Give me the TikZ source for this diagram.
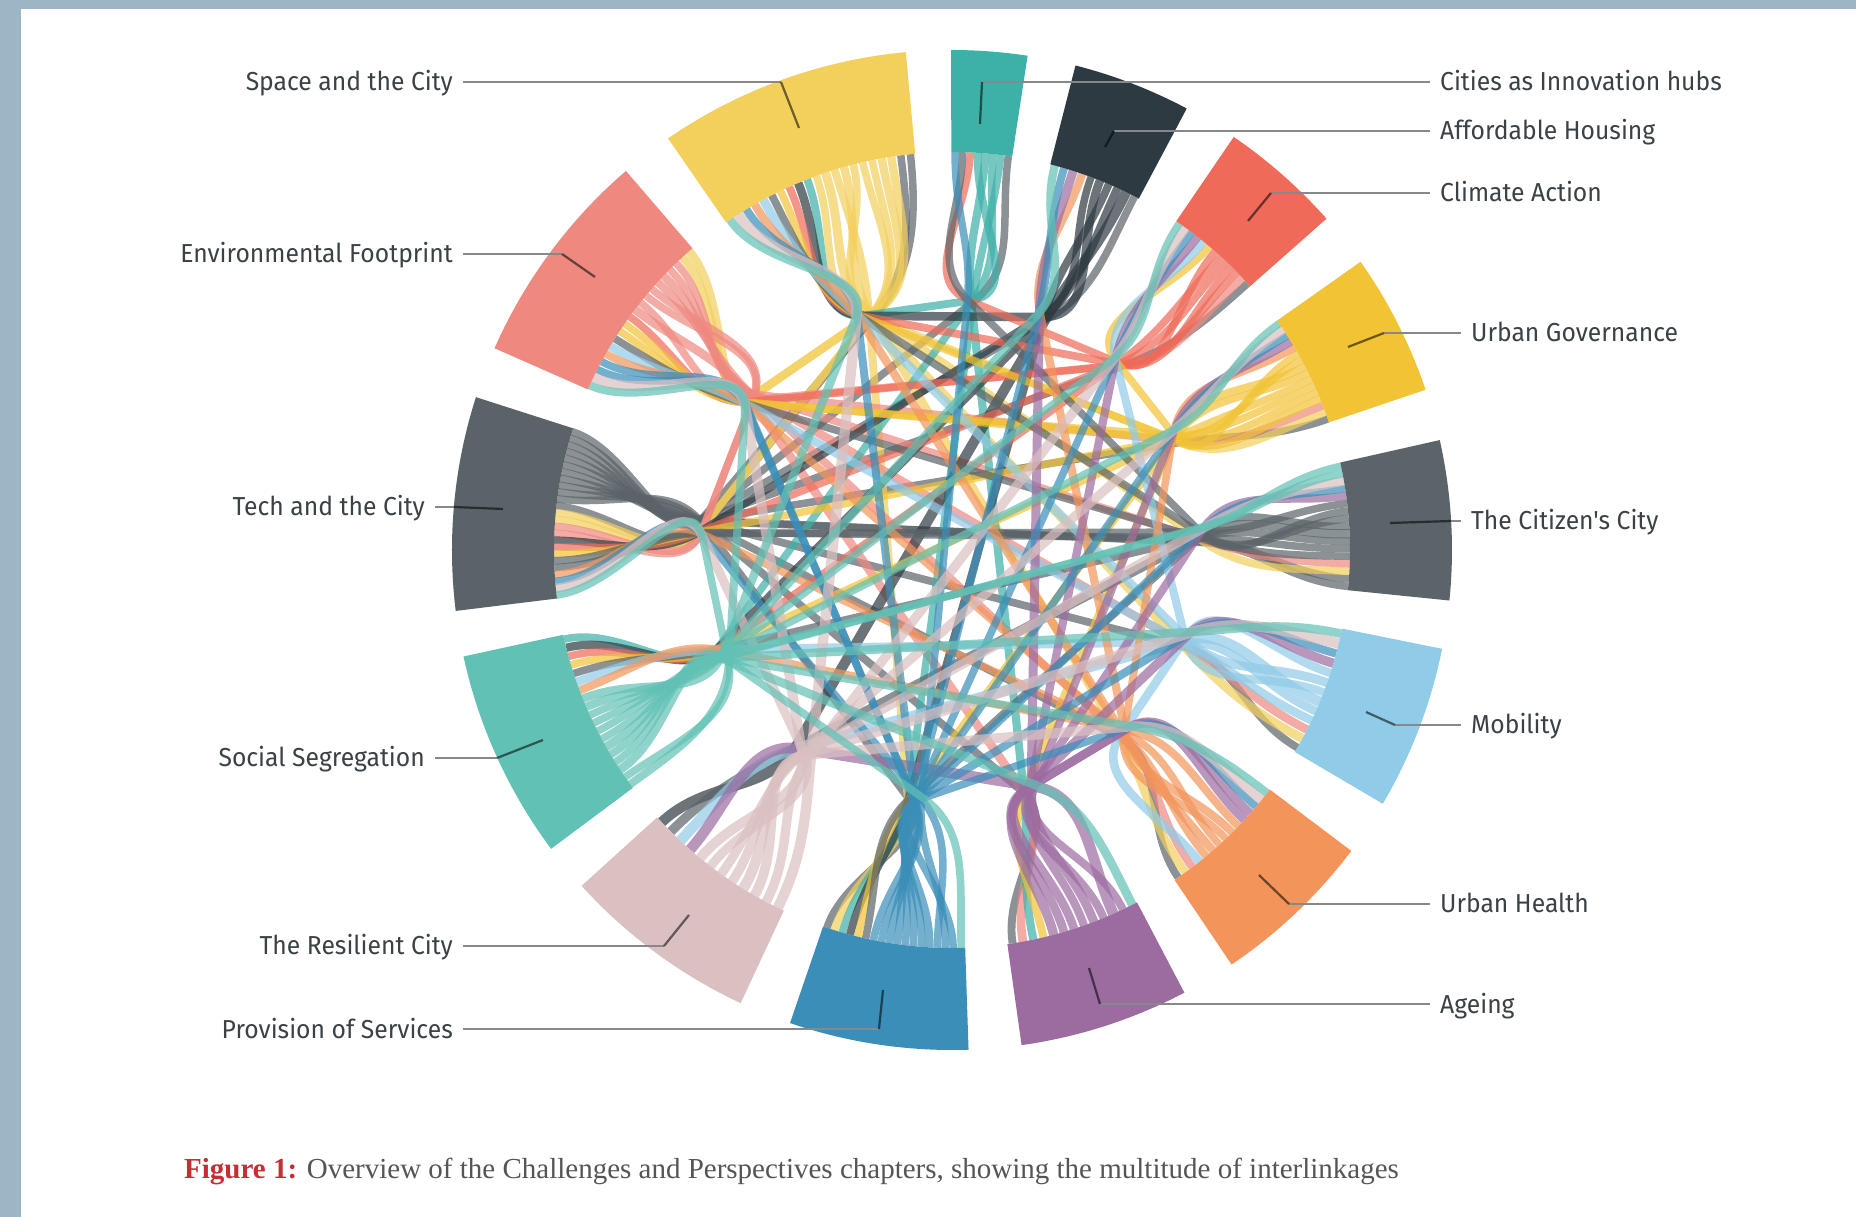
\documentclass[tikz,border=0pt]{standalone}
\usepackage{fontspec}
\setmainfont{Liberation Serif}
\newfontfamily\labfont{Fira Sans}[FakeStretch=0.95]
\usetikzlibrary{calc}
\definecolor{framecol}{HTML}{9DB6C6}
\definecolor{c1}{HTML}{3DB0A8}
\definecolor{c2}{HTML}{2E3A41}
\definecolor{c3}{HTML}{EF6A58}
\definecolor{c4}{HTML}{F1C335}
\definecolor{c5}{HTML}{5B6469}
\definecolor{c6}{HTML}{90CBE7}
\definecolor{c7}{HTML}{F3955B}
\definecolor{c8}{HTML}{9C6BA0}
\definecolor{c9}{HTML}{3A8EB8}
\definecolor{c10}{HTML}{DBC0C1}
\definecolor{c11}{HTML}{62C1B5}
\definecolor{c12}{HTML}{5A6368}
\definecolor{c13}{HTML}{EF8980}
\definecolor{c14}{HTML}{F3CF5C}
\definecolor{labcol}{HTML}{3A4246}
\definecolor{leadcol}{HTML}{85898C}
\definecolor{figred}{HTML}{C42F33}
\definecolor{capgrey}{HTML}{555555}
\tikzset{
  rib/.style={draw=#1, opacity=0.7, line cap=butt},
  lab/.style={font=\labfont\fontsize{26}{29}\selectfont, text=labcol, inner sep=0pt},
  lead/.style={draw=leadcol, line width=2.8pt},
  leadin/.style={draw=black, opacity=0.55, line width=2.2pt},
}
\def\segdata{1/81.3/90.1, 2/62/75.7, 3/41.5/55.7, 4/18.7/35.2, 5/-5.8/12.7, 6/-30.5/-11.4, 7/-56/-37, 8/-82/-62.3, 9/-108.9/-88.1, 10/-137.8/-115, 11/-167.7/-143.3, 12/162.2/187, 13/130.7/156.2, 14/95.3/124.6}
\def\edges{12/14,12/1,12/2,12/3,12/4,12/5,12/5,12/6,12/7,12/8,12/9,12/14,
14/13,14/13,14/12,14/12,14/5,14/7,14/9,14/6,14/4,
13/4,13/5,13/6,13/7,13/12,13/12,13/3,13/8,
1/9,1/11,1/8,1/14,
2/10,2/11,2/9,2/14,2/12,
3/13,3/14,3/12,3/11,3/1,
4/14,4/13,4/12,4/11,4/9,4/8,4/13,4/3,
5/13,5/12,5/11,5/10,5/9,5/14,5/1,5/12,
6/13,6/11,6/10,6/3,6/14,6/7,
7/13,7/14,7/12,7/4,7/2,7/11,
8/6,8/7,8/7,8/3,8/2,8/5,8/10,8/4,
9/13,9/13,9/14,9/2,9/3,9/4,9/5,9/6,9/12,9/1,9/7,
10/13,10/12,10/4,10/5,10/6,10/7,10/3,10/14,
11/14,11/2,11/3,11/4,11/5,11/5,11/6,11/7,11/9,11/8,11/12,11/13}
\begin{document}
\begin{tikzpicture}[x=1pt,y=1pt]
\useasboundingbox (-952,-667) rectangle (904,550);
\fill[framecol] (-952,-667) rectangle (904,550);
\fill[white] (-931,-667) rectangle (904,541);
% segment data
\foreach \i/\s/\e in \segdata {%
  \expandafter\xdef\csname sa\i\endcsname{\s}%
  \expandafter\xdef\csname ea\i\endcsname{\e}%
  \expandafter\xdef\csname n\i\endcsname{0}%
  \expandafter\xdef\csname k\i\endcsname{0}%
}
% count ribbon ends per segment
\foreach \p/\q in \edges {%
  \expandafter\xdef\csname n\p\endcsname{\the\numexpr\csname n\p\endcsname+1\relax}%
  \expandafter\xdef\csname n\q\endcsname{\the\numexpr\csname n\q\endcsname+1\relax}%
}
% ribbons
\foreach \p/\q in \edges {%
  \edef\xkP{\csname k\p\endcsname}%
  \expandafter\xdef\csname k\p\endcsname{\the\numexpr\xkP+1\relax}%
  \edef\xkQ{\csname k\q\endcsname}%
  \expandafter\xdef\csname k\q\endcsname{\the\numexpr\xkQ+1\relax}%
  \edef\xsP{\csname sa\p\endcsname}\edef\xeP{\csname ea\p\endcsname}\edef\xnP{\csname n\p\endcsname}%
  \edef\xsQ{\csname sa\q\endcsname}\edef\xeQ{\csname ea\q\endcsname}\edef\xnQ{\csname n\q\endcsname}%
  \pgfmathsetmacro\xaP{(\xsP)+(\xkP+0.5)*((\xeP)-(\xsP))/\xnP}%
  \pgfmathsetmacro\xaQ{(\xsQ)+(\xkQ+0.5)*((\xeQ)-(\xsQ))/\xnQ}%
  \pgfmathsetmacro\xfP{((\xsP)+(\xeP))/2+0.2*((\xaP)-((\xsP)+(\xeP))/2)}%
  \pgfmathsetmacro\xfQ{((\xsQ)+(\xeQ))/2+0.2*((\xaQ)-((\xsQ)+(\xeQ))/2)}%
  \pgfmathsetmacro\xw{min(11,max(7.5,0.45*6.946*(((\xeP)-(\xsP))/\xnP+((\xeQ)-(\xsQ))/\xnQ)))}%
  \draw[rib=c\p, line width=\xw pt] (\xaP:398) .. controls (\xaP:335) and ($(\xfP:250)!-55pt!(\xfQ:250)$) .. (\xfP:250) -- (\xfQ:250) .. controls ($(\xfQ:250)!-55pt!(\xfP:250)$) and (\xaQ:335) .. (\xaQ:398);
}
% segments
\foreach \i/\s/\e in \segdata {%
  \fill[c\i] (\s:398) arc[start angle=\s, end angle=\e, radius=398] -- (\e:500) arc[start angle=\e, end angle=\s, radius=500] -- cycle;
}
% left labels (base line placed so that the leader meets mid cap height)
\node[lab, anchor=base east] (lSC) at (-499,459) {Space and the City};
\node[lab, anchor=base east] (lEF) at (-499,287) {Environmental Footprint};
\node[lab, anchor=base east] (lTC) at (-527,34) {Tech and the City};
\node[lab, anchor=base east] (lSS) at (-527,-217) {Social Segregation};
\node[lab, anchor=base east] (lRC) at (-499,-405) {The Resilient City};
\node[lab, anchor=base east] (lPS) at (-499,-488) {Provision of Services};
% right labels
\node[lab, anchor=base west] (lCI) at (488,459) {Cities as Innovation hubs};
\node[lab, anchor=base west] (lAH) at (488,410) {Affordable Housing};
\node[lab, anchor=base west] (lCA) at (488,348) {Climate Action};
\node[lab, anchor=base west] (lUG) at (519,208) {Urban Governance};
\node[lab, anchor=base west] (lCC) at (519,20) {The Citizen's City};
\node[lab, anchor=base west] (lMO) at (519,-184) {Mobility};
\node[lab, anchor=base west] (lUH) at (488,-363) {Urban Health};
\node[lab, anchor=base west] (lAG) at (488,-463) {Ageing};
% leader coordinates
\coordinate (bSC) at (-171,468); \coordinate (eSC) at (-153,422);
\coordinate (bEF) at (-390,296); \coordinate (eEF) at (-357,273);
\coordinate (bTC) at (-498,43);  \coordinate (eTC) at (-449,41);
\coordinate (bSS) at (-455,-208); \coordinate (eSS) at (-409,-190);
\coordinate (bRC) at (-288,-396); \coordinate (eRC) at (-263,-365);
\coordinate (bPS) at (-73,-479); \coordinate (ePS) at (-69,-440);
\coordinate (bCI) at (30,468); \coordinate (eCI) at (28,426);
\coordinate (bAH) at (162,419); \coordinate (eAH) at (153,403);
\coordinate (bCA) at (319,357); \coordinate (eCA) at (296,329);
\coordinate (bUG) at (432,217); \coordinate (eUG) at (396,203);
\coordinate (bCC) at (499,29); \coordinate (eCC) at (438,27);
\coordinate (bMO) at (443,-175); \coordinate (eMO) at (414,-162);
\coordinate (bUH) at (337,-354); \coordinate (eUH) at (307,-325);
\coordinate (bAG) at (148,-454); \coordinate (eAG) at (137,-418);
\foreach \n in {SC,EF,TC,SS,RC,PS}{%
  \draw[lead] ([xshift=10pt,yshift=9pt]l\n.base east) -- (b\n);
  \draw[leadin] (b\n) -- (e\n);
}
\foreach \n in {CI,AH,CA,UG,CC,MO,UH,AG}{%
  \draw[lead] ([xshift=-10pt,yshift=9pt]l\n.base west) -- (b\n);
  \draw[leadin] (b\n) -- (e\n);
}
% caption
\node[anchor=mid west, inner sep=0pt, font=\fontsize{29}{32}\selectfont] (cap) at (-768,-626)
  {\textcolor{figred}{\textbf{Figure 1:}} \textcolor{capgrey}{Overview of the Challenges and Perspectives chapters, showing the multitude of interlinkages}};
\end{tikzpicture}
\end{document}
